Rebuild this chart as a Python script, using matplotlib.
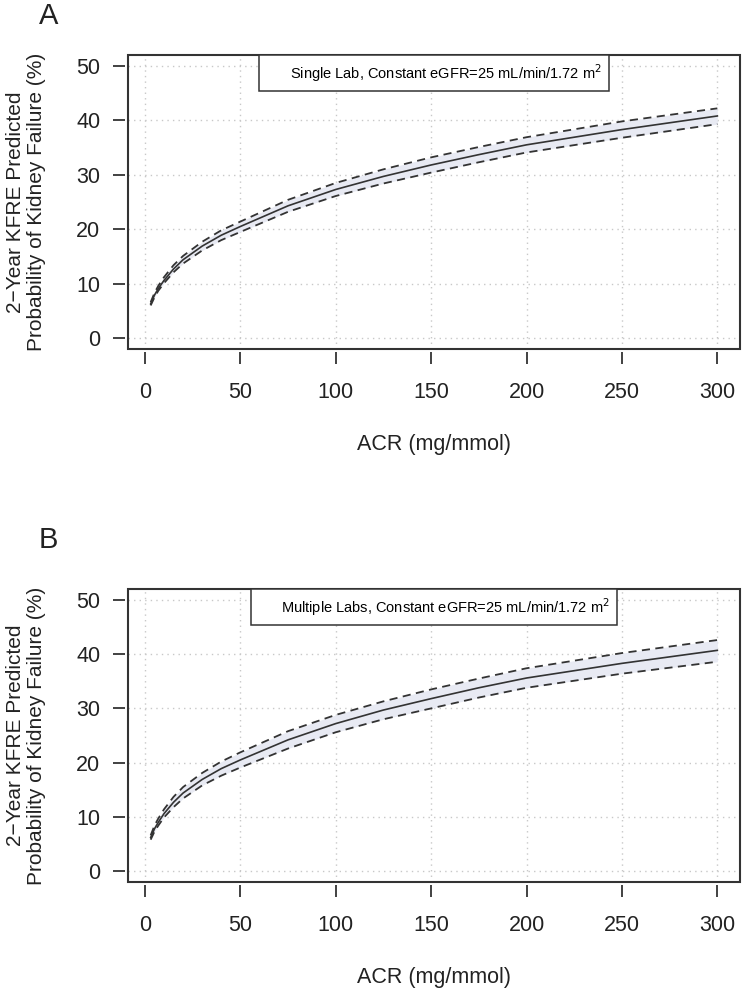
import matplotlib.pyplot as plt
from matplotlib.lines import Line2D
from matplotlib.patches import Rectangle

plt.rcParams['font.family'] = ['Liberation Sans', 'DejaVu Sans']

# ACR (mg/mmol) values
acr = [3, 5, 7, 10, 15, 20, 30, 40, 50, 75, 100, 125, 150, 175, 200, 250, 300]

# panel A - single lab
mean_a = [6.3, 7.9, 9.1, 10.6, 12.7, 14.4, 16.9, 18.9, 20.5, 24.3, 27.3, 29.7, 31.8, 33.7, 35.5, 38.3, 40.8]
upper_a = [6.6, 8.3, 9.6, 11.2, 13.4, 15.1, 17.7, 19.8, 21.4, 25.4, 28.5, 31.0, 33.2, 35.1, 36.9, 39.8, 42.2]
lower_a = [6.0, 7.5, 8.7, 10.1, 12.1, 13.7, 16.1, 18.0, 19.5, 23.2, 26.1, 28.4, 30.4, 32.3, 34.1, 36.8, 39.3]

# panel B - multiple labs
mean_b = [6.2, 7.8, 9.0, 10.6, 12.7, 14.4, 16.9, 18.9, 20.5, 24.2, 27.2, 29.7, 31.8, 33.8, 35.6, 38.3, 40.7]
upper_b = [6.6, 8.4, 9.7, 11.4, 13.7, 15.5, 18.1, 20.2, 21.9, 25.8, 28.8, 31.3, 33.5, 35.5, 37.4, 40.2, 42.6]
lower_b = [5.8, 7.3, 8.4, 9.9, 11.8, 13.4, 15.8, 17.6, 19.1, 22.6, 25.6, 28.0, 30.0, 32.0, 33.8, 36.4, 38.6]

x_ticks = [0, 50, 100, 150, 200, 250, 300]
y_ticks = [0, 10, 20, 30, 40, 50]

legend_a = "Single Lab, Constant eGFR=25 mL/min/1.72 m$^2$"
legend_b = "Multiple Labs, Constant eGFR=25 mL/min/1.72 m$^2$"
ylab = "2\u2212Year KFRE Predicted\nProbability of Kidney Failure (%)"

dark = "#333333"
fig = plt.figure(figsize=(7.42, 9.89), dpi=100)


def panel(rect, mean, upper, lower, legend_text, letter, letter_y):
    ax = fig.add_axes(rect)
    ax.set_xlim(-8.88, 311.88)
    ax.set_ylim(-2, 52)

    # grid
    for xt in x_ticks:
        ax.axvline(xt, color="#c8c8c8", lw=1.0, dashes=(1, 3), zorder=0)
    for yt in y_ticks:
        ax.axhline(yt, color="#c8c8c8", lw=1.0, dashes=(1, 3), zorder=0)

    ax.fill_between(acr, lower, upper, color="#e8eaf3", lw=0, zorder=1)
    ax.plot(acr, mean, color=dark, lw=1.2, zorder=3)
    ax.plot(acr, upper, color=dark, lw=1.3, dashes=(4.5, 3), zorder=3)
    ax.plot(acr, lower, color=dark, lw=1.3, dashes=(4.5, 3), zorder=3)

    # box drawn separately, ticks set a bit off the box like R
    for s in ax.spines.values():
        s.set_visible(False)
    ax.spines['bottom'].set_position(('outward', 2.5))
    ax.spines['left'].set_position(('outward', 2.5))
    ax.add_patch(Rectangle((0, 0), 1, 1, transform=ax.transAxes, fill=False,
                           ec=dark, lw=1.5, clip_on=False, zorder=5))

    ax.set_xticks(x_ticks)
    ax.set_yticks(y_ticks)
    ax.tick_params(direction="out", length=8.5, width=1.3, color=dark,
                   labelsize=15.5, labelcolor="#222222")
    ax.tick_params(axis="x", pad=13)
    ax.tick_params(axis="y", pad=9)

    ax.set_xlabel("ACR (mg/mmol)", fontsize=15.5, color="#222222", va="center")
    ax.xaxis.set_label_coords(0.5, -0.325)

    leg = ax.legend([Line2D([], [], color="none")], [legend_text], loc="upper center",
                    bbox_to_anchor=(0.5, 1.0), borderaxespad=0, fontsize=10.5,
                    fancybox=False, framealpha=1, edgecolor=dark,
                    borderpad=0.5, handlelength=1.2, handletextpad=0.4)
    leg.get_frame().set_linewidth(1.1)

    fig.text(0.035, rect[1] + rect[3] / 2, ylab, rotation=90, ha="center", va="center",
             fontsize=15, linespacing=1.15, color="#222222")
    fig.text(0.0526, letter_y, letter, fontsize=21, va="baseline", color="#222222")
    return ax


panel([0.1725, 0.6471, 0.8248, 0.2973], mean_a, upper_a, lower_a, legend_a, "A", 0.9757)
panel([0.1725, 0.1082, 0.8248, 0.2962], mean_b, upper_b, lower_b, legend_b, "B", 0.4459)

fig.savefig("out.png", dpi=100)
